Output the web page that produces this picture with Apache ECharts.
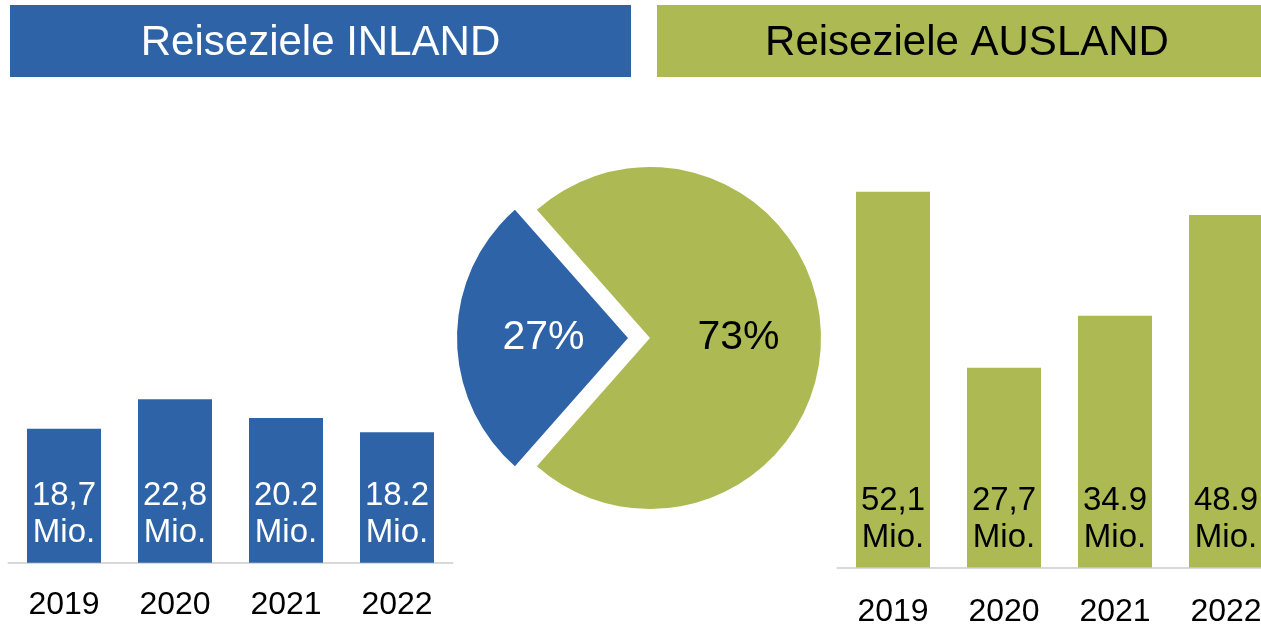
<!DOCTYPE html>
<html>
<head>
<meta charset="utf-8">
<script src="https://cdn.jsdelivr.net/npm/echarts@6/dist/echarts.min.js"></script>
<style>
    html, body { margin: 0; padding: 0; background: #fff; }
    #divChart { width: 1261px; height: 624px; }
</style>
</head>
<body>
<div id="divChart"></div>
<script>
var years = ['2019', '2020', '2021', '2022'];
var inlandValues = [18.7, 22.8, 20.2, 18.2];
var inlandLabels = ['18,7', '22,8', '20.2', '18.2'];
var auslandValues = [52.1, 27.7, 34.9, 48.9];
var auslandLabels = ['52,1', '27,7', '34.9', '48.9'];
var shareNames = ['Inland', 'Ausland'];
var shareValues = [27, 73];

var BLUE = '#2e63a7';
var GREEN = '#adb952';
var FONT = '"Liberation Sans", Arial, sans-serif';

var myChart = echarts.init(document.getElementById('divChart'));

function barLabel(labels, color) {
    return {
        show: true,
        position: 'insideBottom',
        distance: 11,
        color: color,
        fontFamily: FONT,
        fontSize: 33,
        lineHeight: 37,
        formatter: function (p) {
            return labels[p.dataIndex] + '\nMio.';
        }
    };
}

function xAxisFor(gridIndex, margin) {
    return {
        type: 'category',
        gridIndex: gridIndex,
        data: years,
        axisTick: { show: false },
        axisLine: { lineStyle: { color: '#d9d9d9', width: 2 } },
        axisLabel: { color: '#000', fontFamily: FONT, fontSize: 32, margin: margin }
    };
}

function yAxisFor(gridIndex) {
    return {
        type: 'value',
        gridIndex: gridIndex,
        min: 0,
        max: 60,
        show: false,
        splitLine: { show: false }
    };
}

var option = {
    animation: false,
    backgroundColor: '#fff',
    graphic: [
        {
            type: 'rect',
            shape: { x: 10, y: 5, width: 621, height: 72 },
            style: { fill: BLUE },
            textContent: {
                style: { text: 'Reiseziele INLAND', fill: '#fff', font: '42px ' + FONT }
            },
            textConfig: { position: 'inside', offset: [0, 2] }
        },
        {
            type: 'rect',
            shape: { x: 657, y: 5, width: 620, height: 72 },
            style: { fill: GREEN },
            textContent: {
                style: { text: 'Reiseziele AUSLAND', fill: '#000', font: '42px ' + FONT }
            },
            textConfig: { position: 'inside', offset: [0, 2] }
        }
    ],
    grid: [
        { left: 8.5, width: 444, top: 132.7, bottom: 61.3, outerBoundsMode: 'none' },
        { left: 837.5, width: 444, top: 134.9, bottom: 56.5, outerBoundsMode: 'none' }
    ],
    xAxis: [xAxisFor(0, 26), xAxisFor(1, 29)],
    yAxis: [yAxisFor(0), yAxisFor(1)],
    series: [
        {
            name: 'Inland',
            type: 'bar',
            xAxisIndex: 0,
            yAxisIndex: 0,
            barWidth: 74,
            itemStyle: { color: BLUE },
            label: barLabel(inlandLabels, '#fff'),
            data: inlandValues
        },
        {
            name: 'Ausland',
            type: 'bar',
            xAxisIndex: 1,
            yAxisIndex: 1,
            barWidth: 74,
            itemStyle: { color: GREEN },
            label: barLabel(auslandLabels, '#000'),
            data: auslandValues
        },
        {
            name: 'Anteil',
            type: 'pie',
            center: [650, 338],
            radius: 171,
            startAngle: 228.6,
            clockwise: true,
            selectedMode: 'single',
            selectedOffset: 22,
            emphasis: { disabled: true },
            label: {
                show: true,
                position: 'inside',
                fontFamily: FONT,
                fontSize: 41,
                formatter: '{c}%'
            },
            labelLine: { show: false },
            data: [
                {
                    name: shareNames[0], value: shareValues[0], selected: true,
                    itemStyle: { color: BLUE, borderWidth: 0 },
                    label: { color: '#fff', padding: [0, 0, 0, 8] },
                    select: { itemStyle: { color: BLUE } }
                },
                {
                    name: shareNames[1], value: shareValues[1],
                    itemStyle: { color: GREEN, borderWidth: 0 },
                    label: { color: '#000' }
                }
            ]
        }
    ]
};

myChart.setOption(option);
</script>
</body>
</html>
